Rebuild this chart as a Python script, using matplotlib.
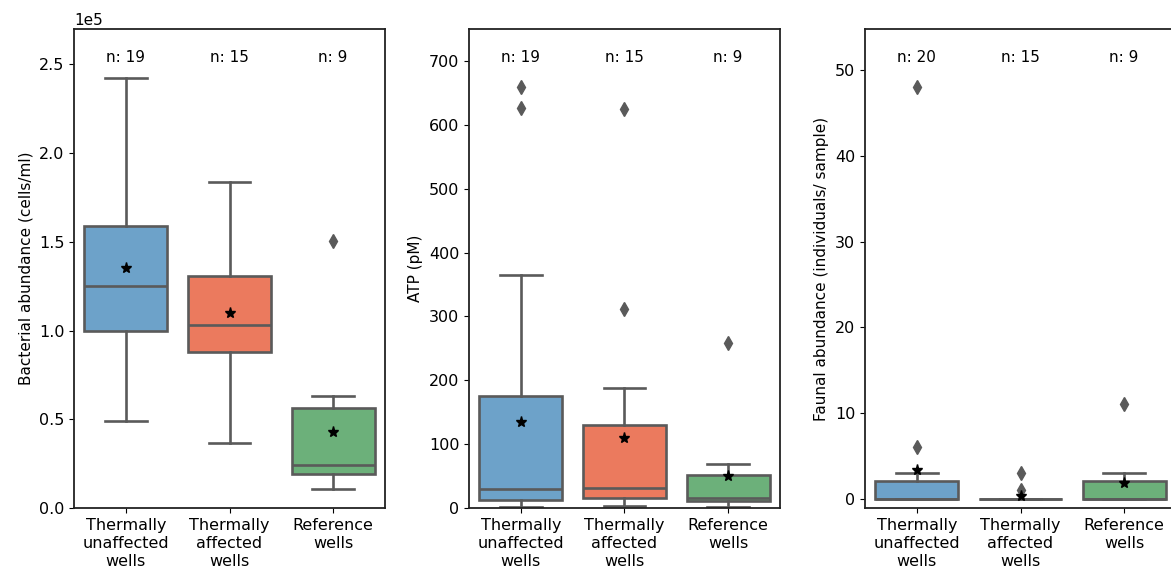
import matplotlib
matplotlib.use("Agg")
import matplotlib.pyplot as plt

# groups
groups = ["Thermally\nunaffected\nwells", "Thermally\naffected\nwells", "Reference\nwells"]
colors = ["#6da2c9", "#eb7a5e", "#6cb07a"]
line_col = "#5a5a5a"

# bacterial abundance (cells/ml)
bac_q1 = [1.00e5, 0.88e5, 0.19e5]
bac_med = [1.25e5, 1.03e5, 0.245e5]
bac_q3 = [1.59e5, 1.31e5, 0.565e5]
bac_lo = [0.49e5, 0.368e5, 0.107e5]
bac_hi = [2.425e5, 1.835e5, 0.632e5]
bac_mean = [1.355e5, 1.10e5, 0.43e5]
bac_fliers = [[], [], [1.505e5]]
bac_n = [19, 15, 9]

# ATP (pM)
atp_q1 = [12, 15.5, 10.5]
atp_med = [29, 31, 15]
atp_q3 = [175, 130, 52]
atp_lo = [1, 3.8, 1.5]
atp_hi = [365, 188, 69]
atp_mean = [135, 110, 50]
atp_fliers = [[626, 659], [311, 625], [258]]
atp_n = [19, 15, 9]

# faunal abundance (individuals/sample)
fau_q1 = [0, 0, 0]
fau_med = [0, 0, 0]
fau_q3 = [2, 0, 2]
fau_lo = [0, 0, 0]
fau_hi = [3, 0, 3]
fau_mean = [3.3, 0.35, 1.8]
fau_fliers = [[6, 48], [1, 3], [11]]
fau_n = [20, 15, 9]


def stats(q1, med, q3, lo, hi, mean, fl):
    return [dict(q1=q1[i], med=med[i], q3=q3[i], whislo=lo[i], whishi=hi[i],
                 mean=mean[i], fliers=fl[i]) for i in range(len(q1))]


fig = plt.figure(figsize=(11.71, 5.73), dpi=100)
W, H = 1171, 573
ax_w = 311 / W
ax_b = (573 - 508) / H
ax_h = (508 - 29) / H
axes = [fig.add_axes([74 / W, ax_b, ax_w, ax_h]),
        fig.add_axes([469 / W, ax_b, ax_w, ax_h]),
        fig.add_axes([865 / W, ax_b, ax_w, ax_h])]

panels = [
    (stats(bac_q1, bac_med, bac_q3, bac_lo, bac_hi, bac_mean, bac_fliers), bac_n,
     "Bacterial abundance (cells/ml)", (0, 2.7e5)),
    (stats(atp_q1, atp_med, atp_q3, atp_lo, atp_hi, atp_mean, atp_fliers), atp_n,
     "ATP (pM)", (0, 750)),
    (stats(fau_q1, fau_med, fau_q3, fau_lo, fau_hi, fau_mean, fau_fliers), fau_n,
     "Faunal abundance (individuals/ sample)", (-1.1, 54.8)),
]

lw = 1.9
for ax, (st, ns, ylab, ylim) in zip(axes, panels):
    bp = ax.bxp(st, positions=range(3), widths=0.8, patch_artist=True,
                showmeans=True, showfliers=True,
                boxprops=dict(edgecolor=line_col, linewidth=lw),
                medianprops=dict(color=line_col, linewidth=lw),
                whiskerprops=dict(color=line_col, linewidth=lw),
                capprops=dict(color=line_col, linewidth=lw),
                flierprops=dict(marker="d", markerfacecolor=line_col,
                                markeredgecolor=line_col, markersize=7),
                meanprops=dict(marker="*", markerfacecolor="black",
                               markeredgecolor="black", markersize=8))
    for patch, c in zip(bp["boxes"], colors):
        patch.set_facecolor(c)
    ax.set_xlim(-0.5, 2.5)
    ax.set_ylim(*ylim)
    ax.set_xticks(range(3))
    ax.set_xticklabels(groups, fontsize=11.5, linespacing=1.25)
    ax.tick_params(axis="y", labelsize=11.5)
    ax.set_ylabel(ylab, fontsize=11)
    for sp in ax.spines.values():
        sp.set_linewidth(1.3)
        sp.set_color("#222222")
    for i, n in enumerate(ns):
        ax.text(i, 0.94, "n: %d" % n, transform=ax.get_xaxis_transform(),
                ha="center", va="center", fontsize=11)

axes[0].ticklabel_format(axis="y", style="sci", scilimits=(0, 0))
axes[0].yaxis.get_offset_text().set_fontsize(11)

fig.savefig("out.png", dpi=100)
